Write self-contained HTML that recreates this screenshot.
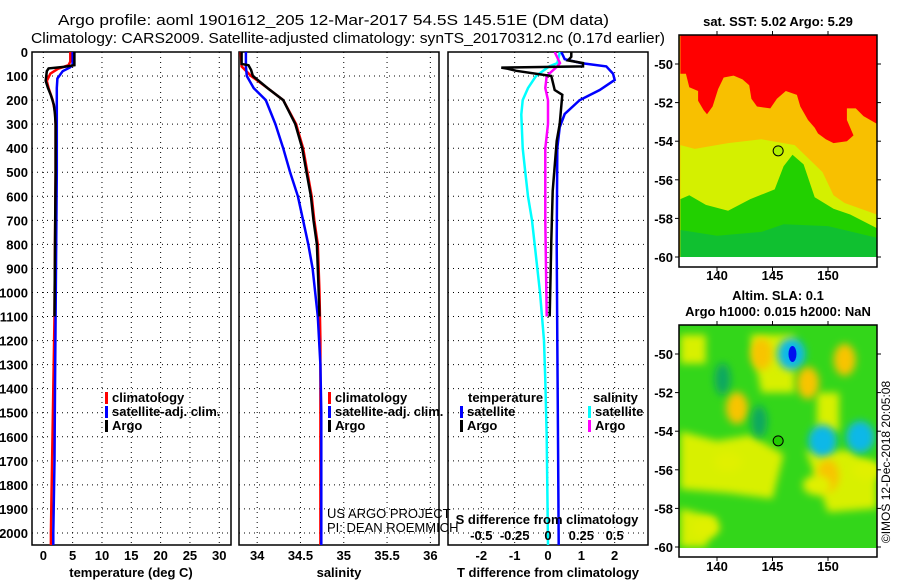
<!DOCTYPE html>
<html><head><meta charset="utf-8">
<style>
html,body{margin:0;padding:0;background:#fff;}
svg{display:block;font-family:"Liberation Sans",sans-serif;}
.t{font-weight:bold;font-size:13px;fill:#000;}
.ttl{font-size:15px;fill:#000;}
</style></head>
<body>
<svg id="fig" width="900" height="580" viewBox="0 0 900 580" xmlns="http://www.w3.org/2000/svg">
<defs>
<filter id="blur" x="-50%" y="-50%" width="200%" height="200%"><feGaussianBlur stdDeviation="4"/></filter>
<clipPath id="clipMapA"><rect x="679" y="35" width="198" height="222"/></clipPath>
<clipPath id="clipMapB"><rect x="679" y="325" width="198" height="223"/></clipPath>
<clipPath id="clipP1"><rect x="32" y="52" width="199" height="493"/></clipPath>
<clipPath id="clipP2"><rect x="239" y="52" width="200" height="493"/></clipPath>
<clipPath id="clipP3"><rect x="448" y="52" width="200" height="493"/></clipPath>
</defs>
<text class="ttl" x="58" y="25" textLength="551" lengthAdjust="spacingAndGlyphs">Argo profile: aoml 1901612_205 12-Mar-2017 54.5S 145.51E (DM data)</text>
<text class="ttl" x="31" y="43" textLength="634" lengthAdjust="spacingAndGlyphs">Climatology: CARS2009. Satellite-adjusted climatology: synTS_20170312.nc (0.17d earlier)</text>
<g id="layer"></g>
</svg>
<script>
// ---- data ----
var depthTicks=[0,100,200,300,400,500,600,700,800,900,1000,1100,1200,1300,1400,1500,1600,1700,1800,1900,2000];
var tempTicks=[0,5,10,15,20,25,30];
var salTicks=[34,34.5,35,35.5,36];
var tdiffTicks=[-2,-1,0,1,2];
var sdiffTicks=[-0.5,-0.25,0,0.25,0.5];
// temperature profiles
var tClimDepth=[0,40,55,70,90,120,150,200,250,300,500,800,1100,1400,1700,2000,2050];
var tClimVal=[4.6,4.6,4.3,2.5,1.2,0.6,0.9,1.6,2.0,2.1,2.1,2.0,1.9,1.7,1.5,1.3,1.3];
var tSatDepth=[0,55,65,80,110,150,200,300,500,800,1100,1400,1700,2000,2050];
var tSatVal=[5.0,5.0,4.5,3.3,2.4,2.3,2.3,2.3,2.3,2.2,2.1,2.0,1.9,1.7,1.7];
var tArgoDepth=[0,55,62,68,80,120,150,180,220,260,300,500,800,1100];
var tArgoVal=[5.3,5.3,3.5,0.9,0.6,0.4,0.8,1.3,1.8,2.0,2.1,2.1,2.0,1.9];
// salinity profiles
var sClimDepth=[0,60,100,150,200,300,400,500,600,700,800,1000,1200,1500,2050];
var sClimVal=[33.81,33.82,33.93,34.12,34.30,34.45,34.53,34.58,34.63,34.66,34.70,34.72,34.73,34.73,34.73];
var sSatDepth=[0,60,100,150,200,300,400,500,600,700,800,900,1000,1100,1300,1500,2050];
var sSatVal=[33.87,33.87,33.88,33.96,34.10,34.21,34.30,34.38,34.47,34.53,34.59,34.64,34.67,34.70,34.73,34.74,34.74];
var sArgoDepth=[0,50,55,75,100,150,200,300,400,500,600,700,800,1000,1100];
var sArgoVal=[33.82,33.82,33.90,33.93,33.95,34.12,34.30,34.44,34.52,34.57,34.62,34.65,34.69,34.71,34.72];
// differences
var dtSatDepth=[0,30,46,60,90,116,158,200,258,313,400,800,1200,1600,2050];
var dtSatVal=[0.4,0.5,1.0,1.75,1.95,2.0,1.55,0.95,0.5,0.35,0.28,0.26,0.28,0.30,0.32];
var dtArgoDepth=[0,20,35,46,60,65,70,78,100,158,178,300,370,578,786,1100];
var dtArgoVal=[0.7,0.7,0.6,1.05,1.05,-1.4,-1.2,-0.95,0.1,0.2,0.43,0.35,0.26,0.14,0.1,0.05];
var dsSatDepth=[0,46,60,100,150,200,260,400,500,600,700,1000,1200,1365,1600,2050];
var dsSatVal=[0.09,0.07,0.01,-0.09,-0.15,-0.19,-0.2,-0.19,-0.17,-0.15,-0.12,-0.06,-0.03,-0.02,-0.01,0.0];
var dsArgoDepth=[0,46,60,100,150,200,300,400,700,1100];
var dsArgoVal=[0.05,0.09,0.07,-0.01,-0.02,0.0,0.0,-0.02,-0.02,-0.01];
// map axes
var lonTicks=[140,145,150];
var latTicks=[-50,-52,-54,-56,-58,-60];
var argoLon=[145.51];
var argoLat=[-54.5];

var NS="http://www.w3.org/2000/svg";
var L=document.getElementById('layer');
function mk(tag,at,parent){var e=document.createElementNS(NS,tag);for(var k in at)e.setAttribute(k,at[k]);(parent||L).appendChild(e);return e;}
function lin(d0,d1,r0,r1){return function(v){return r0+(v-d0)*(r1-r0)/(d1-d0);};}

var yD=lin(0,2050,52,545);
var xT=lin(-1.93,32,32,231);
var xS=lin(33.79,36.1,239,439);
var xDT=lin(-3,3,448,648);
var xDS=lin(-0.75,0.75,448,648);

function panel(name,x0,x1,xs,ticks,clip){
  var g=mk('g',{});
  
  
  ticks.forEach(function(t){var x=xs(t);
    var l=mk('line',{x1:x,x2:x,y1:52,y2:545,stroke:'#000','stroke-width':1,'stroke-dasharray':'1,4'},g);
    
    
  });
  depthTicks.forEach(function(d){var y=yD(d);
    var l=mk('line',{x1:x0,x2:x1,y1:y,y2:y,stroke:'#000','stroke-width':1,'stroke-dasharray':'1,4'},g);
    
    
  });
  var r=mk('rect',{x:x0,y:52,width:x1-x0,height:493,fill:'none',stroke:'#000','stroke-width':1.5},g);
  
  
  return g;
}
function profile(name,depths,vals,xs,color,clip,w){
  var pts=depths.map(function(d,i){return xs(vals[i]).toFixed(1)+','+yD(d).toFixed(1);}).join(' ');
  var p=mk('polyline',{points:pts,fill:'none',stroke:color,'stroke-width':w||2.5,'clip-path':'url(#'+clip+')'});
  
  
}
function txt(name,s,x,y,cls,anchor,extra){
  var t=mk('text',Object.assign({x:x,y:y,'class':cls||'t','text-anchor':anchor||'start'},extra||{}));
  t.textContent=s;
  
  
  return t;
}
function legend(name,x,y,color,label){
  var r=mk('rect',{x:x,y:y-10,width:3,height:12,fill:color});
  
  
  txt(name,label,x+7,y);
}

// panels
panel('temperature-panel',32,231,xT,tempTicks,'clipP1');
panel('salinity-panel',239,439,xS,salTicks,'clipP2');
panel('difference-panel',448,648,xDT,tdiffTicks,'clipP3');

profile('temp-climatology-line',tClimDepth,tClimVal,xT,'#ff0000','clipP1');
profile('temp-satellite-line',tSatDepth,tSatVal,xT,'#0000ff','clipP1');
profile('temp-argo-line',tArgoDepth,tArgoVal,xT,'#000000','clipP1');
profile('sal-climatology-line',sClimDepth,sClimVal,xS,'#ff0000','clipP2');
profile('sal-satellite-line',sSatDepth,sSatVal,xS,'#0000ff','clipP2');
profile('sal-argo-line',sArgoDepth,sArgoVal,xS,'#000000','clipP2');
profile('sdiff-satellite-line',dsSatDepth,dsSatVal,xDS,'#00ffff','clipP3');
profile('sdiff-argo-line',dsArgoDepth,dsArgoVal,xDS,'#ff00ff','clipP3');
profile('tdiff-satellite-line',dtSatDepth,dtSatVal,xDT,'#0000ff','clipP3');
profile('tdiff-argo-line',dtArgoDepth,dtArgoVal,xDT,'#000000','clipP3');

// depth labels
depthTicks.forEach(function(d){txt('depth-tick-label',String(d),28,yD(d)+5,'t','end');});
tempTicks.forEach(function(v){txt('temp-tick-label',String(v),xT(v),560,'t','middle');});
salTicks.forEach(function(v){txt('sal-tick-label',String(v),xS(v),560,'t','middle');});
tdiffTicks.forEach(function(v){txt('tdiff-tick-label',String(v),xDT(v),560,'t','middle');});
sdiffTicks.forEach(function(v){txt('sdiff-tick-label',String(v),xDS(v),540,'t','middle');});
txt('temp-axis-title','temperature (deg C)',131,577,'t','middle');
txt('sal-axis-title','salinity',339,577,'t','middle');
txt('tdiff-axis-title','T difference from climatology',548,577,'t','middle');
txt('sdiff-axis-title','S difference from climatology',547,524,'t','middle');

legend('legend-climatology',105,402,'#ff0000','climatology');
legend('legend-satellite-adj',105,416,'#0000ff','satellite-adj. clim.');
legend('legend-argo',105,430,'#000000','Argo');
legend('legend-climatology-2',328,402,'#ff0000','climatology');
legend('legend-satellite-adj-2',328,416,'#0000ff','satellite-adj. clim.');
legend('legend-argo-2',328,430,'#000000','Argo');
txt('legend-temperature-heading','temperature',468,402);
legend('legend-t-satellite',460,416,'#0000ff','satellite');
legend('legend-t-argo',460,430,'#000000','Argo');
txt('legend-salinity-heading','salinity',593,402);
legend('legend-s-satellite',588,416,'#00ffff','satellite');
legend('legend-s-argo',588,430,'#ff00ff','Argo');
txt('credit-line-1','US ARGO PROJECT',327,518,'t','start',{style:'font-weight:normal;font-size:13px'});
txt('credit-line-2','PI: DEAN ROEMMICH',327,532,'t','start',{style:'font-weight:normal;font-size:13px'});

// ---- maps ----
var xLon=lin(140,150,717,828);
var yA=lin(-50,-60,64,257);
var yB=lin(-50,-60,354,547);

// SST map: region polygons in lon/lat
var sstRedBoundaryLon=[136.7,137.2,137.5,138.3,138.3,138.8,139.1,139.6,140.1,140.6,141.5,142.3,142.9,143.1,143.6,144.8,145.4,146.2,147.2,147.5,148.2,148.8,149.1,149.8,150.5,151.7,152.3,151.7,151.7,152.5,153.2,154.4,154.4];
var sstRedBoundaryLat=[-50.5,-50.5,-51.2,-51.4,-51.9,-52.4,-52.6,-52.2,-51.3,-50.7,-50.6,-50.8,-51.1,-51.8,-52.2,-52.3,-51.8,-51.4,-51.6,-52.2,-52.9,-53.3,-53.6,-53.9,-54.1,-54.0,-53.7,-52.9,-52.3,-52.3,-52.7,-53.1,-53.1];
var sstGreenLon=[136.7,137.5,139.0,141.0,143.0,145.2,146.0,146.8,147.8,148.8,150.5,152.0,154.4,154.4,136.7];
var sstGreenLat=[-57.0,-56.8,-57.3,-57.6,-57.0,-56.5,-55.3,-54.7,-55.2,-56.9,-57.5,-57.8,-58.5,-60,-60];
var sstYellowLon=[136.7,138.0,141.0,144.0,147.0,149.5,150.5,151.5,154.4,154.4,136.7];
var sstYellowLat=[-54.2,-54.4,-54.1,-53.9,-54.2,-55.6,-56.8,-57.2,-57.8,-60,-60];
var sstDeepLon=[136.7,140,144,146,150,154.4,154.4,136.7];
var sstDeepLat=[-58.6,-58.9,-58.7,-58.3,-58.4,-59.0,-60,-60];

function poly(name,lons,lats,ys,fill,clip,g){
  var pts=lons.map(function(v,i){return xLon(v).toFixed(1)+','+ys(lats[i]).toFixed(1);}).join(' ');
  var p=mk('polygon',{points:pts,fill:fill,'clip-path':'url(#'+clip+')'},g);
  
  
}
var gA=mk('g',{});


mk('rect',{x:679,y:35,width:198,height:222,fill:'#f8c000'},gA);
poly('sst-yellow-region',sstYellowLon,sstYellowLat,yA,'#d4f000','clipMapA',gA);
poly('sst-green-region',sstGreenLon,sstGreenLat,yA,'#22d000','clipMapA',gA);
poly('sst-deep-green-region',sstDeepLon,sstDeepLat,yA,'#10c030','clipMapA',gA);
var redLon=sstRedBoundaryLon.concat([154.4,136.7]);
var redLat=sstRedBoundaryLat.concat([-48,-48]);
poly('sst-red-region',redLon,redLat,yA,'#ff0000','clipMapA',gA);
var fa=mk('rect',{x:679,y:35,width:198,height:232,fill:'none',stroke:'#000','stroke-width':1.5},gA);



// SLA map blobs
var slaBlobLon=[144.0,146.7,146.8,151.5,148.2,149.5,152.9,140.5,141.8,150.0,149.0,141.0,139.0,153.5,143.8];
var slaBlobLat=[-50.0,-50.0,-50.0,-50.3,-51.5,-54.5,-54.3,-51.3,-52.8,-56.3,-56.8,-55.6,-59.0,-56.0,-53.5];
var slaBlobKind=['o','c','b','o','o','c','c','g','o','o','y','y','y','y','g'];
var gB=mk('g',{});


mk('rect',{x:679,y:325,width:198,height:223,fill:'#33d61a'},gB);
var yellowPatchesLon=[[136.7,140,143,146,145,141,136.7],[143,147,147,144],[148,152,154.4,154.4,150],[136.7,140,139,136.7],[136.7,139,139,136.7],[149,151,151,149]];
var yellowPatchesLat=[[-54.0,-54.5,-54.2,-55.2,-57.5,-57.2,-57.0],[-49,-49,-52,-52],[-55,-55,-56,-58,-58.2],[-58,-58.5,-60,-60],[-49,-49,-50.5,-50.5],[-52,-52,-54,-54]];
yellowPatchesLon.forEach(function(lo,i){
  var pts=lo.map(function(v,j){return xLon(v).toFixed(1)+','+yB(yellowPatchesLat[i][j]).toFixed(1);}).join(' ');
  var p=mk('polygon',{points:pts,fill:'#d8f000',filter:'url(#blur)','clip-path':'url(#clipMapB)'},gB);
  
  
});
var kindColor={o:'#f8c400',c:'#10b8e8',b:'#0010f0',g:'#10a860',y:'#e0f000'};
var kindR={o:[11,16],c:[14,16],b:[4,8],g:[8,16],y:[14,10]};
slaBlobLon.forEach(function(lo,i){
  var k=slaBlobKind[i];
  var e=mk('ellipse',{cx:xLon(lo),cy:yB(slaBlobLat[i]),rx:kindR[k][0],ry:kindR[k][1],fill:kindColor[k],filter:k==='b'?'':'url(#blur)','clip-path':'url(#clipMapB)'},gB);
  
  
});
var fb=mk('rect',{x:679,y:325,width:198,height:232,fill:'none',stroke:'#000','stroke-width':1.5},gB);



// argo position markers
[yA,yB].forEach(function(ys,m){
  var c=mk('circle',{cx:xLon(argoLon[0]),cy:ys(argoLat[0]),r:5,fill:m===0?'#b0f000':'#22cc00',stroke:'#000','stroke-width':1});
  
  
});

// map ticks/labels
[[yA,35,267,280],[yB,325,557,571]].forEach(function(a){
  var ys=a[0];
  lonTicks.forEach(function(v){
    mk('line',{x1:xLon(v),x2:xLon(v),y1:a[1]-4,y2:a[1],stroke:'#000'});
    mk('line',{x1:xLon(v),x2:xLon(v),y1:a[2],y2:a[2]+4,stroke:'#000'});
    txt('lon-tick-label',String(v),xLon(v),a[3],'t','middle');
  });
  latTicks.forEach(function(v){
    mk('line',{x1:877,x2:881,y1:ys(v),y2:ys(v),stroke:'#000'});
    mk('line',{x1:675,x2:679,y1:ys(v),y2:ys(v),stroke:'#000'});
    txt('lat-tick-label',String(v),673,ys(v)+5,'t','end');
  });
});
txt('sst-map-title','sat. SST: 5.02 Argo: 5.29',778,26,'t','middle');
txt('sla-map-title-1','Altim. SLA: 0.1',778,300,'t','middle');
txt('sla-map-title-2','Argo h1000: 0.015 h2000: NaN',778,316,'t','middle');
txt('imos-credit','©IMOS 12-Dec-2018 20:05:08',0,0,'t','middle',{transform:'translate(890,462) rotate(-90)',style:'font-weight:normal;font-size:12px'});
</script>
</body></html>
